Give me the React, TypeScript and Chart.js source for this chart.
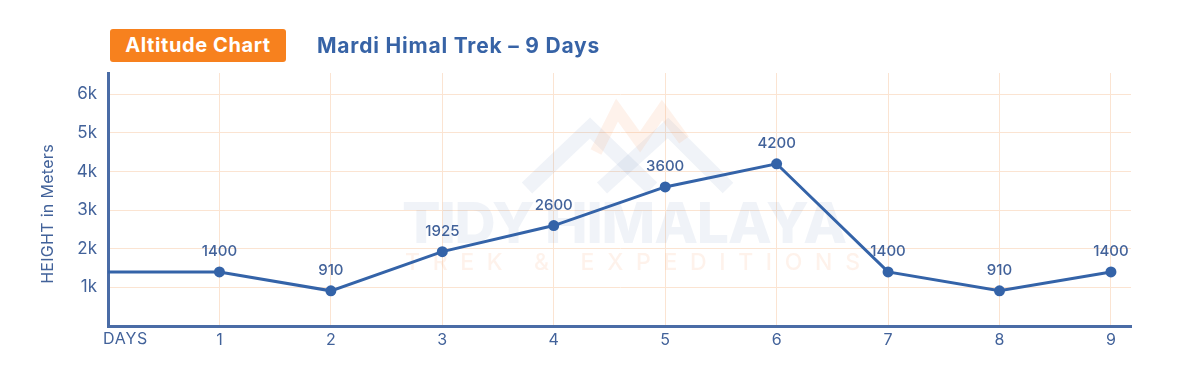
import React, { useEffect, useRef } from "react";
import { Chart, registerables } from "chart.js";

Chart.register(...registerables);

const days: number[] = [0, 1, 2, 3, 4, 5, 6, 7, 8, 9];
const dayLabels: string[] = ["DAYS", "1", "2", "3", "4", "5", "6", "7", "8", "9"];
const altitudes: number[] = [1400, 1400, 910, 1925, 2600, 3600, 4200, 1400, 910, 1400];
const yTickValues: number[] = [0, 1000, 2000, 3000, 4000, 5000, 6000];
const yTickLabels: string[] = ["", "1k", "2k", "3k", "4k", "5k", "6k"];

const BLUE_LINE = "#3463a8";
const AXIS_BLUE = "#4a6ca6";
const TEXT_BLUE = "#42629a";
const GRID = "#fbe4d2";
const FONT = "Inter, 'Noto Sans', sans-serif";

const watermarkPlugin = {
  id: "watermark",
  beforeDatasetsDraw(chart: any) {
    const ctx = chart.ctx;
    ctx.save();
    // logo
    ctx.lineCap = "butt";
    ctx.lineJoin = "miter";
    ctx.strokeStyle = "rgba(70,100,170,0.08)";
    ctx.lineWidth = 15;
    ctx.beginPath();
    ctx.moveTo(527, 188);
    ctx.lineTo(590, 128);
    ctx.lineTo(652, 188);
    ctx.stroke();
    ctx.beginPath();
    ctx.moveTo(602, 188);
    ctx.lineTo(668, 128);
    ctx.lineTo(728, 188);
    ctx.stroke();
    ctx.strokeStyle = "rgba(245,140,70,0.11)";
    ctx.lineWidth = 12;
    ctx.beginPath();
    ctx.moveTo(596, 152);
    ctx.lineTo(617, 110);
    ctx.lineTo(640, 142);
    ctx.lineTo(662, 110);
    ctx.lineTo(684, 140);
    ctx.stroke();
    // big text
    ctx.textBaseline = "alphabetic";
    ctx.textAlign = "left";
    ctx.font = `800 57px ${FONT}`;
    const t1 = "TIDY HIMALAYA";
    const w1 = ctx.measureText(t1).width;
    const ls1 = (445 - w1) / (t1.length - 1);
    (ctx as any).letterSpacing = `${ls1}px`;
    ctx.fillStyle = "rgba(70,100,170,0.08)";
    ctx.fillText(t1, 402, 243);
    (ctx as any).letterSpacing = "0px";
    ctx.font = `500 23px ${FONT}`;
    const t2 = "TREK & EXPEDITIONS";
    const w2 = ctx.measureText(t2).width;
    const ls2 = (455 - w2) / (t2.length - 1);
    (ctx as any).letterSpacing = `${ls2}px`;
    ctx.fillStyle = "rgba(245,140,70,0.11)";
    ctx.fillText(t2, 405, 270);
    (ctx as any).letterSpacing = "0px";
    ctx.restore();
  },
};

const labelsPlugin = {
  id: "pointLabels",
  afterDatasetsDraw(chart: any) {
    const ctx = chart.ctx;
    const meta = chart.getDatasetMeta(0);
    ctx.save();
    ctx.font = `500 15px ${FONT}`;
    ctx.fillStyle = TEXT_BLUE;
    ctx.textAlign = "center";
    ctx.textBaseline = "middle";
    meta.data.forEach((pt: any, i: number) => {
      if (i === 0) return;
      ctx.fillText(String(altitudes[i]), pt.x, pt.y - 20);
    });
    // DAYS label and y title
    ctx.font = `400 16px ${FONT}`;
    ctx.fillStyle = TEXT_BLUE;
    ctx.textAlign = "left";
    (ctx as any).letterSpacing = "0.8px";
    ctx.fillText(dayLabels[0], 103, 339);
    (ctx as any).letterSpacing = "0.3px";
    ctx.translate(48, 214);
    ctx.rotate(-Math.PI / 2);
    ctx.textAlign = "center";
    ctx.fillText("HEIGHT in Meters", 0, 0);
    ctx.restore();
  },
};

export default function App() {
  const ref = useRef<HTMLCanvasElement>(null);
  useEffect(() => {
    if (!ref.current) return;
    const chart = new Chart(ref.current, {
      type: "line",
      data: {
        datasets: [
          {
            data: days.map((d, i) => ({ x: d, y: altitudes[i] })),
            borderColor: BLUE_LINE,
            backgroundColor: BLUE_LINE,
            borderWidth: 3,
            pointRadius: (c: any) => (c.dataIndex === 0 ? 0 : 5.5),
            pointHoverRadius: 5.5,
            pointBackgroundColor: BLUE_LINE,
            pointBorderWidth: 0,
            tension: 0,
          },
        ],
      },
      options: {
        responsive: false,
        animation: false,
        layout: { padding: { top: 73, right: 69, left: 0, bottom: 0 } },
        plugins: {
          legend: { display: false },
          tooltip: { enabled: false },
          title: { display: false },
        },
        scales: {
          x: {
            type: "linear",
            min: 0,
            max: 9.18,
            afterBuildTicks: (s: any) => {
              s.ticks = days.map((d) => ({ value: d }));
            },
            afterFit: (s: any) => {
              s.height = 48;
            },
            ticks: {
              color: TEXT_BLUE,
              font: { family: FONT, size: 16 },
              padding: 5,
              maxRotation: 0,
              autoSkip: false,
              callback: (v: any) => {
                const i = days.indexOf(Number(v));
                return i <= 0 ? "" : dayLabels[i];
              },
            },
            grid: {
              color: (c: any) => (c.tick && c.tick.value === 0 ? "rgba(0,0,0,0)" : GRID),
              lineWidth: 1,
              drawTicks: false,
            },
            border: { color: AXIS_BLUE, width: 3 },
          },
          y: {
            type: "linear",
            min: 0,
            max: 6550,
            afterBuildTicks: (s: any) => {
              s.ticks = yTickValues.map((v) => ({ value: v }));
            },
            afterFit: (s: any) => {
              s.width = 108;
            },
            ticks: {
              color: TEXT_BLUE,
              font: { family: FONT, size: 17 },
              padding: 11,
              callback: (v: any) => {
                const i = yTickValues.indexOf(Number(v));
                return i < 0 ? "" : yTickLabels[i];
              },
            },
            grid: {
              color: (c: any) => (c.tick && c.tick.value === 0 ? "rgba(0,0,0,0)" : GRID),
              lineWidth: 1,
              drawTicks: false,
            },
            border: { color: AXIS_BLUE, width: 3 },
          },
        },
      },
      plugins: [watermarkPlugin, labelsPlugin],
    } as any);
    return () => chart.destroy();
  }, []);

  return (
    <div
      style={{
        position: "fixed",
        left: 0,
        top: 0,
        width: 1200,
        height: 374,
        background: "#ffffff",
        overflow: "hidden",
      }}
    >
      <canvas ref={ref} width={1200} height={374} style={{ position: "absolute", left: 0, top: 0 }} />
      <div
        style={{
          position: "absolute",
          left: 110,
          top: 29,
          width: 176,
          height: 33,
          background: "#f7811e",
          borderRadius: 3,
          color: "#ffffff",
          fontFamily: FONT,
          fontWeight: 700,
          fontSize: 20,
          lineHeight: "33px",
          textAlign: "center",
          letterSpacing: "0.6px",
          whiteSpace: "nowrap",
        }}
      >
        Altitude Chart
      </div>
      <div
        style={{
          position: "absolute",
          left: 317,
          top: 29,
          height: 33,
          color: "#3763a6",
          fontFamily: FONT,
          fontWeight: 700,
          fontSize: 21,
          lineHeight: "33px",
          letterSpacing: "0.8px",
          whiteSpace: "nowrap",
        }}
      >
        Mardi Himal Trek – 9 Days
      </div>
    </div>
  );
}
